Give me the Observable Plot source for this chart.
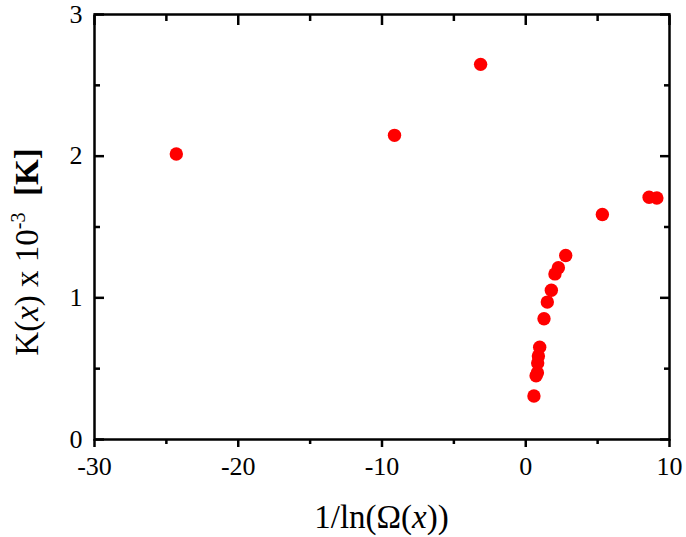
<!DOCTYPE html>
<html>
<head>
<meta charset="utf-8">
<script src="https://cdn.jsdelivr.net/npm/d3@7"></script>
<script src="https://cdn.jsdelivr.net/npm/@observablehq/plot@0.6"></script>
<style>
  html, body { margin: 0; padding: 0; background: #fff; }
</style>
</head>
<body>
<div id="chart"></div>
<script>
// Data
const invLnOmega = [-24.31, -9.13, -3.14, 5.33, 8.58, 9.12, 2.78, 2.27, 2.03, 1.78, 1.50, 1.27, 0.97, 0.88, 0.83, 0.81, 0.72, 0.57];
const kValues    = [2.015, 2.147, 2.648, 1.588, 1.710, 1.705, 1.299, 1.212, 1.169, 1.054, 0.970, 0.852, 0.652, 0.589, 0.54, 0.471, 0.45, 0.307];

const xMajor = [-30, -20, -10, 0, 10];
const xMinor = [-25, -15, -5, 5];
const yMajor = [0, 1, 2, 3];
const yMinor = [0.5, 1.5, 2.5];

const points = invLnOmega.map((x, i) => ({x, y: kValues[i]}));

const W = 686, H = 537;
const font = "'Liberation Serif', 'Times New Roman', serif";
const fmt = d => String(d).replace("\u2212", "-");

const plot = Plot.plot({
  width: W,
  height: H,
  marginTop: 14,
  marginLeft: 94,
  marginRight: 17,
  marginBottom: 98,
  style: {fontFamily: font, fontSize: "26px", color: "#000", background: "#fff"},
  x: {domain: [-30, 10]},
  y: {domain: [0, 3]},
  marks: [
    // bottom axis: outward ticks with labels
    Plot.axisX({anchor: "bottom", ticks: xMajor, tickSize: 8, tickPadding: 9, strokeWidth: 2.5, fontSize: 26, label: null, tickFormat: fmt}),
    Plot.axisX({anchor: "bottom", ticks: xMinor, tickSize: 5, strokeWidth: 2.5, text: null, label: null}),
    // top axis: inward ticks
    Plot.axisX({anchor: "top", ticks: xMajor, tickSize: -10, strokeWidth: 2.5, text: null, label: null}),
    Plot.axisX({anchor: "top", ticks: xMinor, tickSize: -6, strokeWidth: 2.5, text: null, label: null}),
    // left axis: inward ticks, labels outside
    Plot.axisY({anchor: "left", ticks: yMajor, tickSize: -10, strokeWidth: 2.5, text: null, label: null}),
    Plot.axisY({anchor: "left", ticks: yMinor, tickSize: -6, strokeWidth: 2.5, text: null, label: null}),
    Plot.axisY({anchor: "left", ticks: yMajor, tickSize: 0, tickPadding: 12, fontSize: 26, label: null, tickFormat: fmt}),
    // right axis: inward ticks
    Plot.axisY({anchor: "right", ticks: yMajor, tickSize: -10, strokeWidth: 2.5, text: null, label: null}),
    Plot.axisY({anchor: "right", ticks: yMinor, tickSize: -6, strokeWidth: 2.5, text: null, label: null}),
    Plot.frame({stroke: "#000", strokeWidth: 2.5}),
    Plot.dot(points, {x: "x", y: "y", r: 6.7, fill: "#ff0000", stroke: "none"})
  ]
});

const svg = d3.select(plot);

// x axis title
const xt = svg.append("text")
  .attr("x", 381.5).attr("y", 528)
  .attr("text-anchor", "middle")
  .attr("font-family", font)
  .attr("font-size", 33)
  .attr("fill", "#000");
xt.append("tspan").text("1/ln(Ω(");
xt.append("tspan").attr("font-style", "italic").text("x");
xt.append("tspan").text("))");

// y axis title
const yt = svg.append("text")
  .attr("transform", "translate(38,252) rotate(-90)")
  .attr("text-anchor", "middle")
  .attr("font-family", font)
  .attr("font-size", 33)
  .attr("fill", "#000");
yt.append("tspan").text("K(");
yt.append("tspan").attr("font-style", "italic").text("x");
yt.append("tspan").text(") x 10");
yt.append("tspan").attr("font-size", 20).attr("dy", -13).text("-3");
yt.append("tspan").attr("dy", 13).text("\u00a0\u00a0");
yt.append("tspan").attr("font-weight", "bold").text("[K]");

document.getElementById("chart").appendChild(plot);
</script>
</body>
</html>
